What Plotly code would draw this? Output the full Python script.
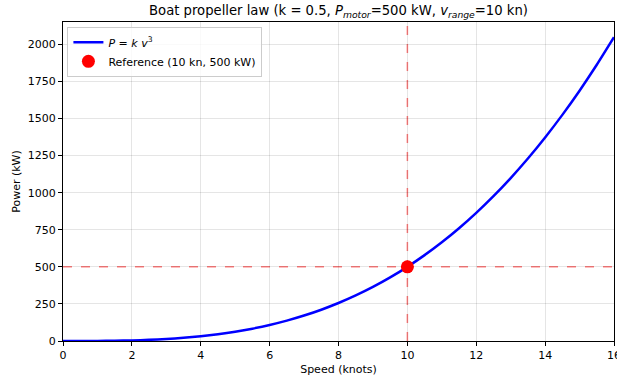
import plotly.graph_objects as go

speed_knots = [0, 0.5, 1, 1.5, 2, 2.5, 3, 3.5, 4, 4.5, 5, 5.5, 6, 6.5, 7, 7.5, 8,
               8.5, 9, 9.5, 10, 10.5, 11, 11.5, 12, 12.5, 13, 13.5, 14, 14.5, 15, 15.5, 16]
power_kw = [0, 0.06, 0.5, 1.7, 4, 7.8, 13.5, 21.4, 32, 45.6, 62.5, 83.2, 108, 137.3,
            171.5, 210.9, 256, 307.1, 364.5, 428.7, 500, 578.8, 665.5, 760.4, 864,
            976.6, 1098.5, 1230.2, 1372, 1524.3, 1687.5, 1862.0, 2048]
ref_speed = 10
ref_power = 500
x_ticks = [0, 2, 4, 6, 8, 10, 12, 14, 16]
y_ticks = [0, 250, 500, 750, 1000, 1250, 1500, 1750, 2000]

font = "DejaVu Sans, sans-serif"
fig = go.Figure()
fig.add_trace(go.Scatter(
    x=speed_knots, y=power_kw, mode="lines",
    line=dict(color="#0000ff", width=2.5, shape="spline", smoothing=0.6),
    name="<i>P</i> = <i>k v</i><sup>3</sup>"))
fig.add_trace(go.Scatter(
    x=[ref_speed], y=[ref_power], mode="markers",
    marker=dict(color="#ff0000", size=13),
    name="Reference (10 kn, 500 kW)"))

fig.add_hline(y=ref_power, line=dict(color="rgba(255,0,0,0.5)", width=1.5, dash="dash"), layer="below")
fig.add_vline(x=ref_speed, line=dict(color="rgba(255,0,0,0.5)", width=1.5, dash="dash"), layer="below")

axis_common = dict(
    showgrid=True, gridcolor="rgba(0,0,0,0.1)", gridwidth=1,
    showline=True, linecolor="black", linewidth=1, mirror=True,
    ticks="outside", ticklen=4, tickcolor="black", tickwidth=1,
    tickfont=dict(family=font, size=11, color="black"),
    zeroline=False, automargin=False, ticklabeloverflow="allow",
)
fig.update_xaxes(range=[0, 16], tickvals=x_ticks, title=dict(text="Speed (knots)", font=dict(family=font, size=11, color="black"), standoff=4), **axis_common)
fig.update_yaxes(range=[0, 2150.4], tickvals=y_ticks, title=dict(text="Power (kW)", font=dict(family=font, size=11, color="black"), standoff=4), **axis_common)

fig.update_layout(
    width=617, height=381,
    margin=dict(l=63, r=3, t=22, b=40, autoexpand=False),
    paper_bgcolor="white", plot_bgcolor="white",
    title=dict(text="Boat propeller law (k = 0.5, <i>P<sub>motor</sub></i>=500 kW, <i>v<sub>range</sub></i>=10 kn)",
               xref="paper", x=0.5, xanchor="center", y=0.972, yanchor="middle",
               font=dict(family=font, size=13.2, color="black")),
    font=dict(family=font, size=11, color="black"),
    legend=dict(x=0.008, y=0.985, xanchor="left", yanchor="top",
                bgcolor="rgba(255,255,255,0.8)", bordercolor="#cccccc", borderwidth=1,
                font=dict(family=font, size=11, color="black"), tracegroupgap=0,
                itemwidth=30),
    showlegend=True,
)
fig.write_html("out.html", config={"displayModeBar": False},
               post_script="document.body.style.margin='0';document.body.style.overflow='hidden';")
